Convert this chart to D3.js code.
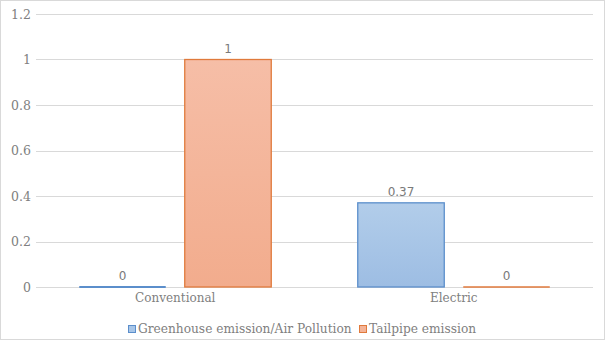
<!DOCTYPE html>
<html>
<head>
<meta charset="utf-8">
<script src="https://cdn.jsdelivr.net/npm/d3@7"></script>
<style>
  html, body { margin: 0; padding: 0; background: #fff; }
  svg { display: block; }
</style>
</head>
<body>
<svg id="chart" width="605" height="340"></svg>
<script>
// Emission comparison by vehicle type
const categories = ["Conventional", "Electric"];
const seriesNames = ["Greenhouse emission/Air Pollution", "Tailpipe emission"];
const greenhouseValues = [0, 0.37];
const tailpipeValues = [1, 0];
const yTicks = [0, 0.2, 0.4, 0.6, 0.8, 1, 1.2];
const yTickLabels = ["0", "0.2", "0.4", "0.6", "0.8", "1", "1.2"];

const seriesValues = [greenhouseValues, tailpipeValues];

const W = 605, H = 340;
const plot = { left: 36, right: 593, top: 14, bottom: 287 };
const serif = "'DejaVu Serif', serif";
const sans = "'DejaVu Sans', sans-serif";
const textGray = "#808080";

const svg = d3.select("#chart");

// outer frame
svg.append("rect")
  .attr("x", 0.5).attr("y", 0.5)
  .attr("width", W - 1).attr("height", H - 1)
  .attr("fill", "#fff").attr("stroke", "#d9d9d9");

// gradients for the two series
const defs = svg.append("defs");
const grads = [
  { id: "gBlue", top: "#b2cdea", bottom: "#9dbde3" },
  { id: "gOrange", top: "#f6bea7", bottom: "#f2ac8d" }
];
grads.forEach(g => {
  const lg = defs.append("linearGradient").attr("id", g.id)
    .attr("x1", 0).attr("y1", 0).attr("x2", 0).attr("y2", 1);
  lg.append("stop").attr("offset", "0%").attr("stop-color", g.top);
  lg.append("stop").attr("offset", "100%").attr("stop-color", g.bottom);
});
const fills = ["url(#gBlue)", "url(#gOrange)"];
const strokes = ["#5b8ecb", "#e07a3c"];
const swatchFills = ["#a8c6e8", "#f4b498"];

const y = d3.scaleLinear().domain([0, 1.2]).range([plot.bottom, plot.top]);
const x0 = d3.scaleBand().domain(categories).range([plot.left, plot.right]).padding(0);
const x1 = d3.scaleBand().domain(seriesNames).range([0, x0.bandwidth()])
  .paddingInner(0.18).paddingOuter(0.41);

// gridlines
svg.append("g").selectAll("line").data(yTicks).join("line")
  .attr("x1", plot.left).attr("x2", plot.right)
  .attr("y1", d => Math.round(y(d)) + 0.5).attr("y2", d => Math.round(y(d)) + 0.5)
  .attr("stroke", "#d9d9d9").attr("stroke-width", 1);

// y tick labels
svg.append("g").selectAll("text").data(yTicks).join("text")
  .attr("x", 31).attr("y", d => y(d) + 4.5)
  .attr("text-anchor", "end")
  .attr("font-family", serif).attr("font-size", 12.5)
  .attr("fill", textGray)
  .text((d, i) => yTickLabels[i]);

// bars
const rows = [];
categories.forEach((c, ci) => {
  seriesNames.forEach((s, si) => {
    rows.push({ cat: c, series: s, si, value: seriesValues[si][ci] });
  });
});

const bars = svg.append("g");
const nonZero = rows.filter(d => d.value > 0);
const zero = rows.filter(d => d.value === 0);

bars.selectAll("rect.bar").data(nonZero).join("rect")
  .attr("class", "bar")
  .attr("x", d => x0(d.cat) + x1(d.series))
  .attr("y", d => y(d.value))
  .attr("width", x1.bandwidth())
  .attr("height", d => y(0) - y(d.value))
  .attr("fill", d => fills[d.si])
  .attr("stroke", d => strokes[d.si])
  .attr("stroke-width", 1.3);

// zero-height bars collapse to their outline on the baseline
bars.selectAll("line.zero").data(zero).join("line")
  .attr("class", "zero")
  .attr("x1", d => x0(d.cat) + x1(d.series))
  .attr("x2", d => x0(d.cat) + x1(d.series) + x1.bandwidth())
  .attr("y1", d => y(d.value)).attr("y2", d => y(d.value))
  .attr("stroke", d => strokes[d.si])
  .attr("stroke-width", d => d.si === 0 ? 2.2 : 1.6);

// value labels
svg.append("g").selectAll("text").data(rows).join("text")
  .attr("x", d => x0(d.cat) + x1(d.series) + x1.bandwidth() / 2)
  .attr("y", d => y(d.value) - 7)
  .attr("text-anchor", "middle")
  .attr("font-family", sans).attr("font-size", 12)
  .attr("fill", "#7a7a7a")
  .text(d => d3.format("~g")(d.value));

// category labels
svg.append("g").selectAll("text").data(categories).join("text")
  .attr("x", d => x0(d) + x0.bandwidth() / 2)
  .attr("y", 302)
  .attr("text-anchor", "middle")
  .attr("font-family", serif).attr("font-size", 12)
  .attr("fill", textGray)
  .text(d => d);

// legend
const legend = svg.append("g");
const legendX = [128, 359];
seriesNames.forEach((s, i) => {
  legend.append("rect")
    .attr("x", legendX[i] + 0.5).attr("y", 325.5)
    .attr("width", 7).attr("height", 7)
    .attr("fill", swatchFills[i]).attr("stroke", strokes[i]);
  legend.append("text")
    .attr("x", legendX[i] + 10).attr("y", 333)
    .attr("font-family", serif).attr("font-size", 12.2)
    .attr("fill", textGray)
    .text(s);
});
</script>
</body>
</html>
